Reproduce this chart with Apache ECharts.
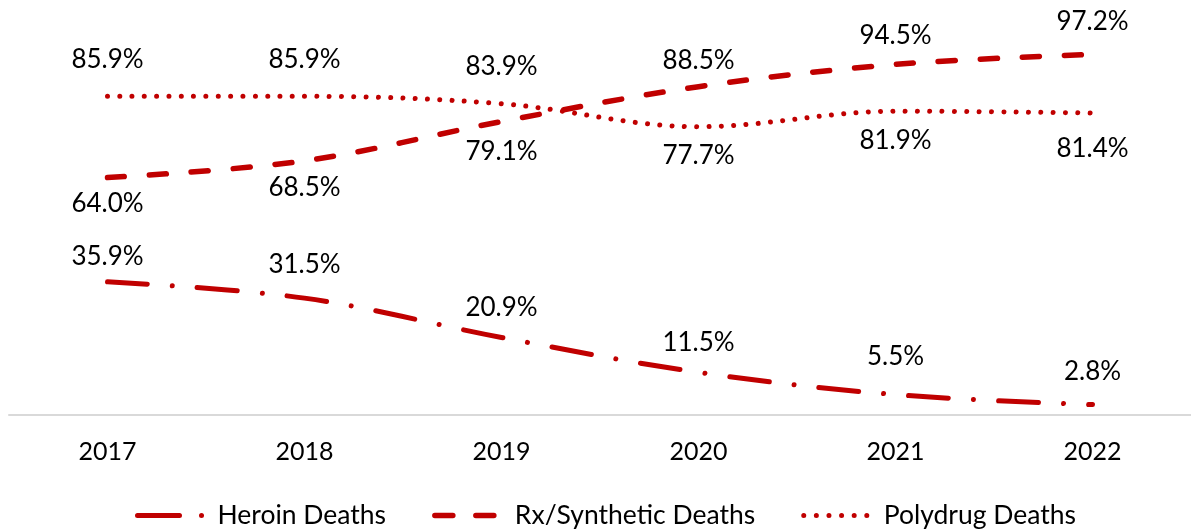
<!DOCTYPE html>
<html>
<head>
<meta charset="utf-8">
<script src="https://cdn.jsdelivr.net/npm/echarts@6/dist/echarts.min.js"></script>
<style>
  html, body { margin: 0; padding: 0; background: #fff; }
  #chart { width: 1191px; height: 529px; }
</style>
</head>
<body>
<div id="chart"></div>
<script>
const years = ['2017', '2018', '2019', '2020', '2021', '2022']
const heroinDeaths = [35.9, 31.5, 20.9, 11.5, 5.5, 2.8]
const rxSyntheticDeaths = [64.0, 68.5, 79.1, 88.5, 94.5, 97.2]
const polydrugDeaths = [85.9, 85.9, 83.9, 77.7, 81.9, 81.4]

// where each value label sits relative to its point
const heroinLabelPos = ['top', 'top', 'top', 'top', 'top', 'top']
const heroinLabelDist = [12, 20, 16, 16, 24, 20]
const rxLabelPos = ['bottom', 'bottom', 'bottom', 'top', 'top', 'top']
const rxLabelDist = [13, 13, 17, 13, 15, 19]
const polyLabelPos = ['top', 'top', 'top', 'bottom', 'bottom', 'bottom']
const polyLabelDist = [23, 23, 24, 15, 16, 22]

const red = '#C00000'
const font = 'Lato'

const withLabels = (values, pos, dist) =>
  values.map((v, i) => ({
    value: v,
    label: { position: pos[i], distance: dist[i] },
  }))

const chart = echarts.init(document.getElementById('chart'))

// symbols are kept (labels hang off them) but made invisible
const baseSeries = {
  type: 'line',
  symbol: 'circle',
  symbolSize: 1,
  showSymbol: true,
  smooth: 0.35,
  itemStyle: { color: 'rgba(0,0,0,0)', borderWidth: 0 },
  label: {
    show: true,
    color: '#000',
    fontFamily: font,
    fontSize: 26,
    formatter: (p) => p.value.toFixed(1) + '%',
  },
  labelLayout: { hideOverlap: false },
  emphasis: { disabled: true },
}

const option = {
  animation: false,
  grid: { left: 9, width: 1190, top: 44, height: 371 },
  legend: {
    top: 502,
    left: 135,
    padding: 0,
    itemWidth: 66,
    itemHeight: 10,
    itemGap: 46,
    textStyle: {
      color: '#000',
      fontFamily: font,
      fontSize: 26.5,
      padding: [0, 0, 0, 9],
    },
    data: [
      {
        name: 'Heroin Deaths',
        itemStyle: { opacity: 0 },
        lineStyle: { color: red, type: [42, 22, 0.01, 22], cap: 'round', width: 5 },
      },
      {
        name: 'Rx/Synthetic Deaths',
        itemStyle: { opacity: 0 },
        lineStyle: { color: red, type: [18, 23], cap: 'round', width: 5.5 },
      },
      {
        name: 'Polydrug Deaths',
        itemStyle: { opacity: 0 },
        lineStyle: { color: red, type: [0.01, 12.6], cap: 'round', width: 5 },
      },
    ],
  },
  xAxis: {
    type: 'category',
    data: years,
    axisLine: { lineStyle: { color: '#D9D9D9', width: 2 } },
    axisTick: { show: false },
    axisLabel: { color: '#000', fontFamily: font, fontSize: 25, margin: 24 },
  },
  yAxis: {
    type: 'value',
    min: 0,
    max: 100,
    show: false,
    splitLine: { show: false },
  },
  series: [
    {
      ...baseSeries,
      name: 'Heroin Deaths',
      lineStyle: { color: red, width: 5, type: [40, 25, 0.01, 25], cap: 'round' },
      data: withLabels(heroinDeaths, heroinLabelPos, heroinLabelDist),
    },
    {
      ...baseSeries,
      name: 'Rx/Synthetic Deaths',
      z: 3,
      lineStyle: { color: red, width: 5.5, type: [17, 25], cap: 'round' },
      data: withLabels(rxSyntheticDeaths, rxLabelPos, rxLabelDist),
    },
    {
      ...baseSeries,
      name: 'Polydrug Deaths',
      lineStyle: { color: red, width: 5, type: [0.01, 12.3], cap: 'round' },
      data: withLabels(polydrugDeaths, polyLabelPos, polyLabelDist),
    },
  ],
}

chart.setOption(option)
</script>
</body>
</html>
